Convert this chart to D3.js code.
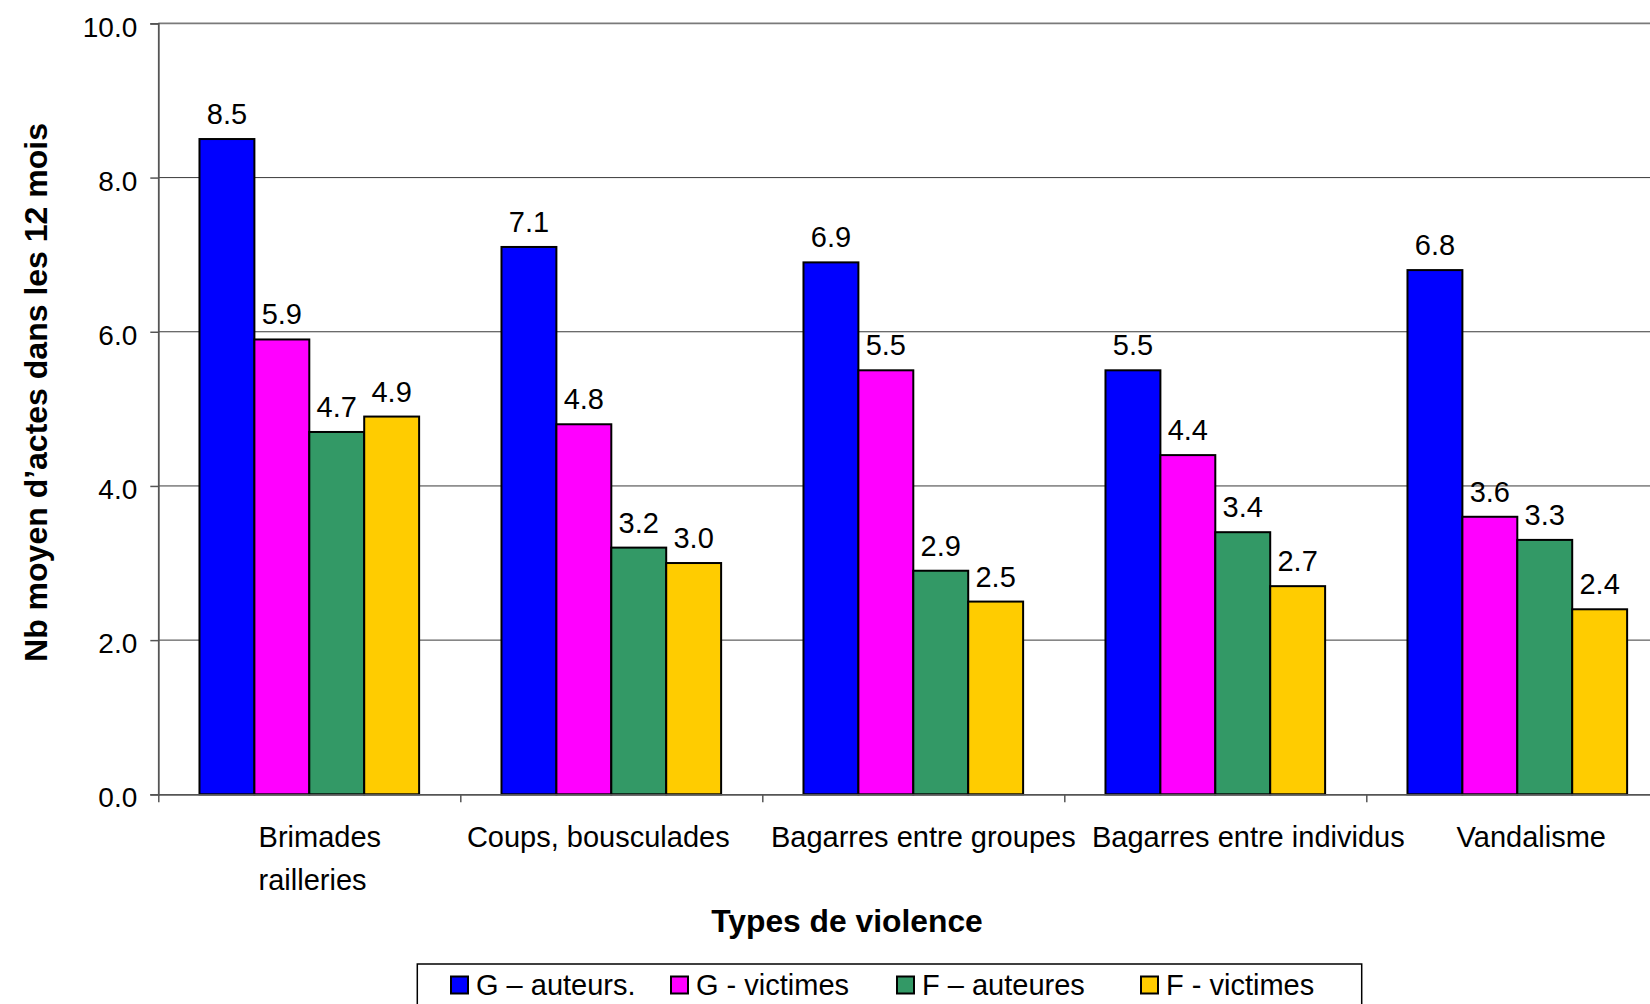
<!DOCTYPE html>
<html lang="fr">
<head>
<meta charset="utf-8">
<title>Nb moyen d'actes dans les 12 mois par type de violence</title>
<script src="https://cdn.jsdelivr.net/npm/d3@7/dist/d3.min.js"></script>
<style>
  html, body { margin: 0; padding: 0; background: #ffffff; }
  svg { display: block; font-family: "Liberation Sans", Arial, Helvetica, sans-serif; }
</style>
</head>
<body>
<svg id="chart" width="1650" height="1004"></svg>
<script>
// ---- data ----
const categories = [
  "Brimades\nrailleries",
  "Coups, bousculades",
  "Bagarres entre groupes",
  "Bagarres entre individus",
  "Vandalisme"
];
const seriesNames = ["G – auteurs.", "G - victimes", "F – auteures", "F - victimes"];
const gAuteurs  = [8.5, 7.1, 6.9, 5.5, 6.8];
const gVictimes = [5.9, 4.8, 5.5, 4.4, 3.6];
const fAuteures = [4.7, 3.2, 2.9, 3.4, 3.3];
const fVictimes = [4.9, 3.0, 2.5, 2.7, 2.4];
const yTicks = [0, 2, 4, 6, 8, 10];
const yTitle = "Nb moyen d’actes dans les 12 mois";
const xTitle = "Types de violence";

// ---- styling / layout ----
const seriesValues = [gAuteurs, gVictimes, fAuteures, fVictimes];
const seriesColors = ["#0000ff", "#ff00ff", "#339966", "#ffcc00"];
const plot = { left: 158.3, top: 23.4, bottom: 794.3, right: 1668.3 };
const labelNudge = [10.5, -13, 10, 33, 14];   // horizontal shift of category captions
const legendItemX = [451, 671, 897, 1141];
const legendTop = 964;

const svg = d3.select("#chart");

const y = d3.scaleLinear().domain([0, 10]).range([plot.bottom, plot.top]);
const x0 = d3.scaleBand().domain(categories).range([plot.left, plot.right]).paddingInner(0).paddingOuter(0);
const x1 = d3.scaleBand().domain(seriesNames).range([0, x0.bandwidth()]).paddingInner(0).paddingOuter(0.75);

// gridlines
svg.append("g")
  .selectAll("line")
  .data(yTicks.filter(d => d > 0))
  .join("line")
  .attr("x1", plot.left).attr("x2", plot.right)
  .attr("y1", d => y(d)).attr("y2", d => y(d))
  .attr("stroke", d => d === 10 ? "#7a7a7a" : "#3a3a3a")
  .attr("stroke-width", d => d === 10 ? 1.6 : 1);

// bars
const rows = categories.map((c, i) => ({ cat: c, vals: seriesNames.map((s, j) => ({ s, v: seriesValues[j][i], j })) }));
const groups = svg.append("g").selectAll("g")
  .data(rows).join("g")
  .attr("transform", d => `translate(${x0(d.cat)},0)`);

groups.selectAll("rect")
  .data(d => d.vals).join("rect")
  .attr("x", d => x1(d.s))
  .attr("y", d => y(d.v))
  .attr("width", x1.bandwidth())
  .attr("height", d => y(0) - y(d.v))
  .attr("fill", d => seriesColors[d.j])
  .attr("stroke", "#000")
  .attr("stroke-width", 2);

groups.selectAll("text")
  .data(d => d.vals).join("text")
  .attr("x", d => x1(d.s) + x1.bandwidth() / 2)
  .attr("y", d => y(d.v) - 15)
  .attr("text-anchor", "middle")
  .attr("font-size", 29)
  .attr("fill", "#000")
  .text(d => d3.format(".1f")(d.v));

// y axis
const yAxis = svg.append("g")
  .attr("transform", `translate(${plot.left},0)`)
  .call(d3.axisLeft(y).tickValues(yTicks).tickSize(8).tickPadding(13).tickFormat(d3.format(".1f")));
yAxis.select(".domain").attr("stroke", "#555").attr("stroke-width", 1.8);
yAxis.selectAll(".tick line").attr("stroke", "#555").attr("stroke-width", 1.5);
yAxis.selectAll(".tick text")
  .attr("font-family", "Liberation Sans, Arial, sans-serif")
  .attr("font-size", 28).attr("fill", "#000").attr("dy", "0.45em");

// x axis with ticks at category boundaries
const xEdges = d3.scaleLinear().domain([0, categories.length]).range([plot.left, plot.right]);
const xAxis = svg.append("g")
  .attr("transform", `translate(0,${plot.bottom})`)
  .call(d3.axisBottom(xEdges).tickValues(d3.range(categories.length + 1)).tickSize(8).tickSizeOuter(0).tickFormat(""));
xAxis.select(".domain").attr("stroke", "#555").attr("stroke-width", 1.8);
xAxis.selectAll(".tick line").attr("stroke", "#555").attr("stroke-width", 1.5);

// category captions
categories.forEach((c, i) => {
  const lines = c.split("\n");
  const t = svg.append("text")
    .attr("font-size", 29)
    .attr("fill", "#000");
  lines.forEach((ln, k) => {
    t.append("tspan").attr("x", 0).attr("y", plot.bottom + 52.4 + k * 43.3).text(ln);
  });
  let w = 0;
  t.selectAll("tspan").each(function () { w = Math.max(w, this.getComputedTextLength()); });
  const left = x0(c) + x0.bandwidth() / 2 + labelNudge[i] - w / 2;
  t.selectAll("tspan").attr("x", left);
});

// axis titles
svg.append("text")
  .attr("transform", "translate(46.5,392.5) rotate(-90)")
  .attr("text-anchor", "middle")
  .attr("font-size", 32)
  .attr("font-weight", "bold")
  .attr("fill", "#000")
  .text(yTitle);

svg.append("text")
  .attr("x", 847).attr("y", 931.7)
  .attr("text-anchor", "middle")
  .attr("font-size", 31.8)
  .attr("font-weight", "bold")
  .attr("fill", "#000")
  .text(xTitle);

// legend (box runs past the bottom edge)
const legend = svg.append("g");
legend.append("rect")
  .attr("x", 417.3).attr("y", legendTop)
  .attr("width", 944.4).attr("height", 80)
  .attr("fill", "#fff").attr("stroke", "#000").attr("stroke-width", 1.5);
const items = legend.selectAll("g.item")
  .data(seriesNames).join("g").attr("class", "item")
  .attr("transform", (d, i) => `translate(${legendItemX[i]},0)`);
items.append("rect")
  .attr("x", 0).attr("y", legendTop + 12.5)
  .attr("width", 17).attr("height", 17)
  .attr("fill", (d, i) => seriesColors[i])
  .attr("stroke", "#000").attr("stroke-width", 2);
items.append("text")
  .attr("x", 25).attr("y", legendTop + 31)
  .attr("font-size", 29)
  .attr("fill", "#000")
  .text(d => d);
</script>
</body>
</html>
